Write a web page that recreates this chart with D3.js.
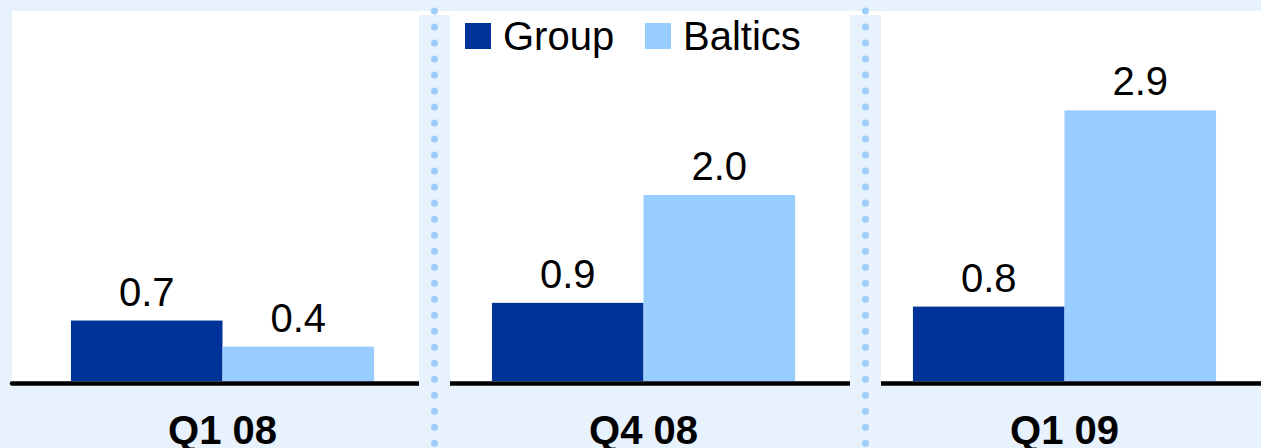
<!DOCTYPE html>
<html>
<head>
<meta charset="utf-8">
<script src="https://cdn.jsdelivr.net/npm/d3@7"></script>
<style>
  html, body { margin: 0; padding: 0; background: #e8f2fd; }
  svg { display: block; }
</style>
</head>
<body>
<div id="chart"></div>
<script>
// data
var categories = ['Q1 08', 'Q4 08', 'Q1 09'];
var series = ['Group', 'Baltics'];
var groupValues = [0.65, 0.84, 0.8];
var balticsValues = [0.37, 2.0, 2.91];
var groupLabels = ['0.7', '0.9', '0.8'];
var balticsLabels = ['0.4', '2.0', '2.9'];

var colors = {
    'Group': '#003399',
    'Baltics': '#99ccff'
};

const width = 1261;
const height = 448;
const bg = '#e8f2fd';
const baseY = 381;
const fontFam = 'Arial, "Liberation Sans", sans-serif';

const svg = d3.select('#chart').append('svg')
    .attr('width', width)
    .attr('height', height);

// background + white plot panel
svg.append('rect')
    .attr('x', 0).attr('y', 0)
    .attr('width', width).attr('height', height)
    .attr('fill', bg);
svg.append('rect')
    .attr('x', 12).attr('y', 11)
    .attr('width', width - 12).attr('height', baseY - 11)
    .attr('fill', 'white');

const x0 = d3.scaleBand()
    .domain(categories)
    .range([12, 1275])
    .paddingInner(0.28)
    .paddingOuter(0.14);

const x1 = d3.scaleBand()
    .domain(series)
    .range([0, x0.bandwidth()]);

const y = d3.scaleLinear()
    .domain([0, 3])
    .range([baseY, baseY - 3 * 93]);

var rows = categories.map(function(c, i) {
    return {
        cat: c,
        items: [
            { key: 'Group', value: groupValues[i], label: groupLabels[i] },
            { key: 'Baltics', value: balticsValues[i], label: balticsLabels[i] }
        ]
    };
});

const groups = svg.selectAll('g.cat')
    .data(rows)
    .enter().append('g')
    .attr('class', 'cat')
    .attr('transform', function(d) { return 'translate(' + x0(d.cat) + ',0)'; });

groups.selectAll('rect')
    .data(function(d) { return d.items; })
    .enter().append('rect')
    .attr('x', function(d) { return x1(d.key); })
    .attr('y', function(d) { return y(d.value); })
    .attr('width', x1.bandwidth())
    .attr('height', function(d) { return y(0) - y(d.value); })
    .attr('fill', function(d) { return colors[d.key]; });

groups.selectAll('text.val')
    .data(function(d) { return d.items; })
    .enter().append('text')
    .attr('class', 'val')
    .attr('text-anchor', 'middle')
    .attr('x', function(d) { return x1(d.key) + x1.bandwidth() / 2; })
    .attr('y', function(d) { return y(d.value) - 15; })
    .text(function(d) { return d.label; })
    .attr('fill', 'black')
    .attr('font-size', 40)
    .style('font-family', fontFam);

// baseline
svg.append('line')
    .attr('x1', 12).attr('x2', width + 5)
    .attr('y1', baseY + 2.5).attr('y2', baseY + 2.5)
    .attr('stroke', 'black')
    .attr('stroke-width', 4.5)
    .attr('stroke-linecap', 'round');

// dotted separators between panels
var sepX = [419, 850];
sepX.forEach(function(sx) {
    svg.append('rect')
        .attr('x', sx).attr('y', 15)
        .attr('width', 31).attr('height', height - 15)
        .attr('fill', bg);
    svg.append('line')
        .attr('x1', sx + 15.5).attr('x2', sx + 15.5)
        .attr('y1', 11).attr('y2', height + 10)
        .attr('stroke', '#9fcdfb')
        .attr('stroke-width', 7)
        .attr('stroke-linecap', 'round')
        .attr('stroke-dasharray', '0.01 16');
});

// category labels
svg.selectAll('text.cat')
    .data(categories)
    .enter().append('text')
    .attr('class', 'cat')
    .attr('text-anchor', 'middle')
    .attr('x', function(d) { return x0(d) + x0.bandwidth() / 2; })
    .attr('y', 444)
    .text(function(d) { return d; })
    .attr('fill', 'black')
    .attr('font-size', 40)
    .style('font-weight', 'bold')
    .style('font-family', fontFam);

// legend
const legend = svg.append('g').attr('transform', 'translate(465,23)');
const li = legend.selectAll('g')
    .data(series)
    .enter().append('g')
    .attr('transform', function(d, i) { return 'translate(' + (i * 180) + ',0)'; });
li.append('rect')
    .attr('width', 26).attr('height', 26)
    .attr('fill', function(d) { return colors[d]; });
li.append('text')
    .attr('x', 38)
    .attr('y', 27)
    .text(function(d) { return d; })
    .attr('fill', 'black')
    .attr('font-size', 40)
    .style('font-family', fontFam);
</script>
</body>
</html>
